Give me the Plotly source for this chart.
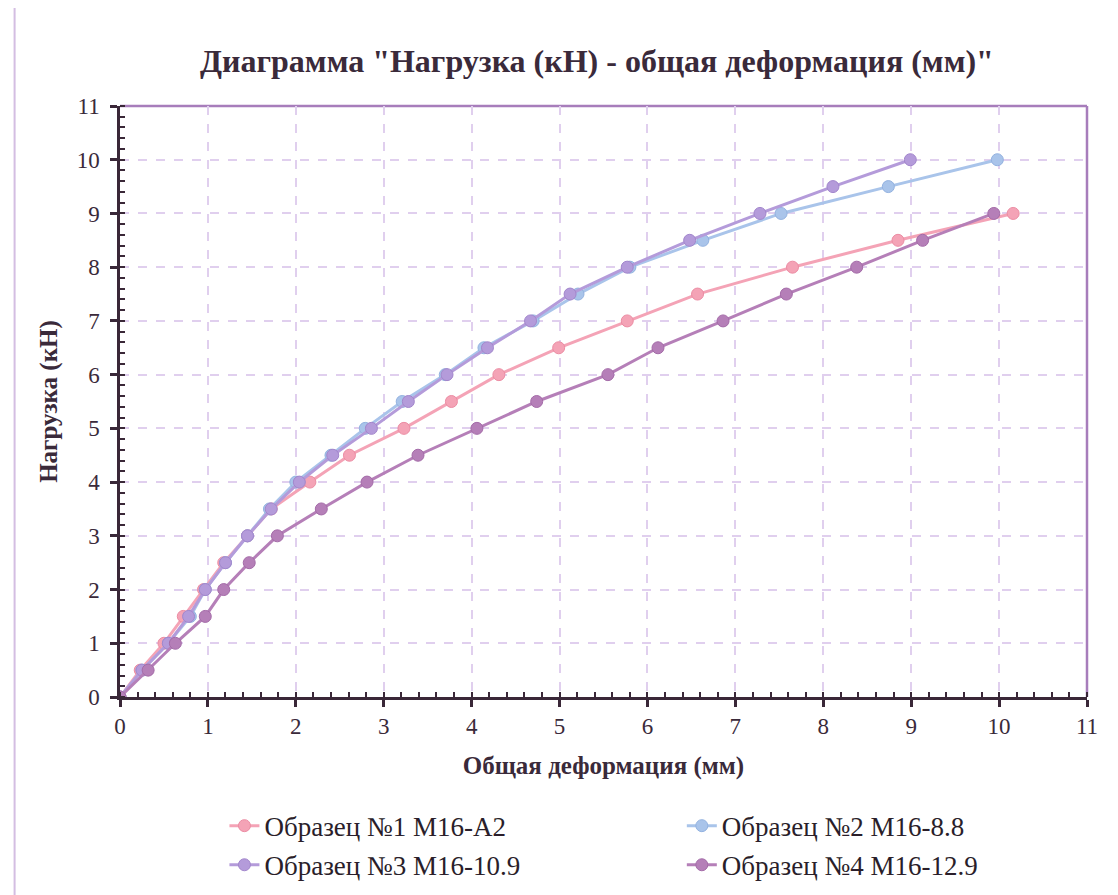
import plotly.graph_objects as go

# Load steps (kN)
load_1 = [0, 0.5, 1.0, 1.5, 2.0, 2.5, 3.0, 3.5, 4.0, 4.5, 5.0, 5.5, 6.0, 6.5, 7.0, 7.5, 8.0, 8.5, 9.0]
load_2 = [0, 0.5, 1.0, 1.5, 2.0, 2.5, 3.0, 3.5, 4.0, 4.5, 5.0, 5.5, 6.0, 6.5, 7.0, 7.5, 8.0, 8.5, 9.0, 9.5, 10.0]
load_3 = [0, 0.5, 1.0, 1.5, 2.0, 2.5, 3.0, 3.5, 4.0, 4.5, 5.0, 5.5, 6.0, 6.5, 7.0, 7.5, 8.0, 8.5, 9.0, 9.5, 10.0]
load_4 = [0, 0.5, 1.0, 1.5, 2.0, 2.5, 3.0, 3.5, 4.0, 4.5, 5.0, 5.5, 6.0, 6.5, 7.0, 7.5, 8.0, 8.5, 9.0]

# Total deformation (mm)
def_1 = [0, 0.23, 0.50, 0.72, 0.95, 1.18, 1.45, 1.72, 2.16, 2.61, 3.23, 3.77, 4.31, 4.99, 5.77, 6.57, 7.65, 8.85, 10.16]
def_2 = [0, 0.25, 0.55, 0.80, 0.97, 1.20, 1.45, 1.70, 2.00, 2.40, 2.79, 3.21, 3.70, 4.14, 4.70, 5.21, 5.80, 6.63, 7.52, 8.74, 9.98]
def_3 = [0, 0.25, 0.55, 0.78, 0.97, 1.20, 1.45, 1.72, 2.04, 2.42, 2.86, 3.28, 3.72, 4.18, 4.67, 5.12, 5.77, 6.48, 7.28, 8.11, 8.99]
def_4 = [0, 0.32, 0.63, 0.97, 1.18, 1.47, 1.79, 2.29, 2.81, 3.39, 4.06, 4.74, 5.55, 6.12, 6.86, 7.58, 8.38, 9.13, 9.94]

names = ["Образец №1 М16-А2", "Образец №2 М16-8.8", "Образец №3 М16-10.9", "Образец №4 М16-12.9"]
colors = ["#F4A3B6", "#A9C4EA", "#B49BDA", "#B57FB8"]
edges = ["#EC8CA3", "#93B2E0", "#A286CC", "#A46BA8"]
legends = ["legend", "legend2", "legend", "legend2"]

xs = [def_1, def_2, def_3, def_4]
ys = [load_1, load_2, load_3, load_4]

FONT = "Liberation Serif"
TXT = "#3A2A3A"

fig = go.Figure()
for i in range(4):
    fig.add_trace(go.Scatter(
        x=xs[i], y=ys[i], name=names[i], mode="lines+markers",
        line=dict(color=colors[i], width=3),
        marker=dict(size=12, color=colors[i], line=dict(color=edges[i], width=1)),
        legend=legends[i], legendgroup=f"g{i}",
    ))

axis_common = dict(
    showline=True, linecolor="#3A2838", linewidth=2.5,
    ticks="outside", ticklen=7, tickwidth=2.5, tickcolor="#3A2838",
    showgrid=True, gridcolor="#E0CFEE", gridwidth=1.5, griddash="dash",
    zeroline=False,
    tickfont=dict(family=FONT, size=23, color=TXT),
    minor=dict(dtick=0.2, ticks="inside", ticklen=5, tickwidth=2, tickcolor="#3A2838", showgrid=False),
)

fig.update_xaxes(range=[0, 11], dtick=1, tick0=0,
                 title=dict(text="<b>Общая деформация (мм)</b>", font=dict(family=FONT, size=25, color=TXT), standoff=19),
                 **axis_common)
fig.update_yaxes(range=[0, 11], dtick=1, tick0=0, ticklabelstandoff=6,
                 title=dict(text="<b>Нагрузка (кН)</b>", font=dict(family=FONT, size=25, color=TXT), standoff=12),
                 **axis_common)

# top and right frame of plot area
fig.add_shape(type="line", xref="paper", yref="paper", x0=0, x1=1, y0=1, y1=1,
              line=dict(color="#A77DBB", width=2.5), layer="below")
fig.add_shape(type="line", xref="paper", yref="paper", x0=1, x1=1, y0=0, y1=1,
              line=dict(color="#A77DBB", width=2.5), layer="below")
# outer left border of chart area
fig.add_shape(type="line", xref="paper", yref="paper", x0=-0.109, x1=-0.109, y0=-0.34, y1=1.18,
              line=dict(color="#D4BEE2", width=2))

legend_common = dict(
    font=dict(family=FONT, size=27, color="#2A1E2A"),
    bgcolor="rgba(0,0,0,0)", orientation="v", tracegroupgap=1,
    yanchor="top", xanchor="left",
)

fig.update_layout(
    width=1110, height=887,
    margin=dict(l=112, r=31, t=98, b=198, autoexpand=False),
    paper_bgcolor="white", plot_bgcolor="white",
    title=dict(text="<b>Диаграмма \"Нагрузка (кН) - общая деформация (мм)\"</b>",
               font=dict(family=FONT, size=32, color=TXT),
               xref="container", x=0.5306, xanchor="center", y=0.94, yanchor="middle"),
    legend=dict(x=0.108, y=-0.177, **legend_common),
    legend2=dict(x=0.581, y=-0.177, **legend_common),
    showlegend=True,
)

fig.write_html("out.html")
